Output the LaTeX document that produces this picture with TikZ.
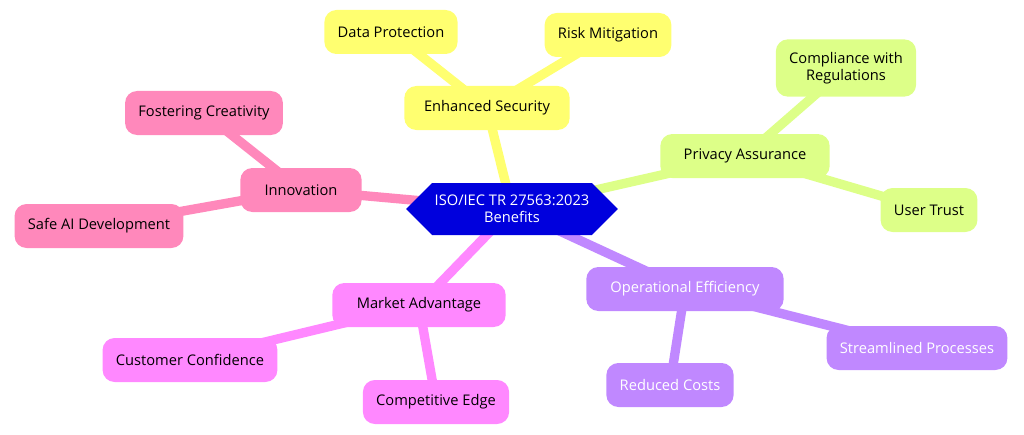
\documentclass[tikz,border=0pt]{standalone}
\usepackage{fontspec}
\setmainfont{Open Sans}
\usetikzlibrary{shapes.symbols,backgrounds}
\definecolor{cblue}{HTML}{0000DD}
\definecolor{cyel}{HTML}{FFFF70}
\definecolor{cgrn}{HTML}{DDFF88}
\definecolor{cpink}{HTML}{FF88BB}
\definecolor{cmag}{HTML}{FF88FF}
\definecolor{cpur}{HTML}{C088FF}
\tikzset{
  box/.style={rounded corners=9pt, align=center, font=\fontsize{11}{13}\selectfont, minimum height=33pt, inner xsep=10pt},
  lnk/.style={line width=7pt},
}
\begin{document}
\begin{tikzpicture}[x=0.75pt,y=-0.75pt]
\useasboundingbox (0,0) rectangle (1024,435);
\node[signal, signal to=east and west, fill=cblue, text=white, font=\fontsize{11}{13}\selectfont, align=center, minimum width=154pt, minimum height=39pt, inner xsep=2pt] (c) at (512,209) {ISO/IEC TR 27563:2023\\Benefits};
\node[box, fill=cyel, minimum width=124pt] (es) at (487,108) {Enhanced Security};
\node[box, fill=cyel] (dp) at (391,32) {Data Protection};
\node[box, fill=cyel] (rm) at (608,35) {Risk Mitigation};
\node[box, fill=cgrn, minimum width=127pt] (pa) at (745,156) {Privacy Assurance};
\node[box, fill=cgrn, minimum height=43pt] (cr) at (846,68) {Compliance with\\Regulations};
\node[box, fill=cgrn] (ut) at (929,210) {User Trust};
\node[box, fill=cpink, minimum width=91pt] (in) at (301,190) {Innovation};
\node[box, fill=cpink] (fc) at (204,113) {Fostering Creativity};
\node[box, fill=cpink] (sa) at (99,226) {Safe AI Development};
\node[box, fill=cmag, minimum width=130pt] (ma) at (419,305) {Market Advantage};
\node[box, fill=cmag] (cc) at (190,360) {Customer Confidence};
\node[box, fill=cmag] (ce) at (436,402) {Competitive Edge};
\node[box, fill=cpur, text=white, minimum width=148pt] (oe) at (685,289) {Operational Efficiency};
\node[box, fill=cpur, text=white] (sp) at (917,348) {Streamlined Processes};
\node[box, fill=cpur, text=white] (rc) at (670,385) {Reduced Costs};
\begin{pgfonlayer}{background}
\draw[lnk, cyel] (c.center) -- (es.center) (es.center) -- (dp.center) (es.center) -- (rm.center);
\draw[lnk, cgrn] (c.center) -- (pa.center) (pa.center) -- (cr.center) (pa.center) -- (ut.center);
\draw[lnk, cpink] (c.center) -- (in.center) (in.center) -- (fc.center) (in.center) -- (sa.center);
\draw[lnk, cmag] (c.center) -- (ma.center) (ma.center) -- (cc.center) (ma.center) -- (ce.center);
\draw[lnk, cpur] (c.center) -- (oe.center) (oe.center) -- (sp.center) (oe.center) -- (rc.center);
\end{pgfonlayer}
\end{tikzpicture}
\end{document}
